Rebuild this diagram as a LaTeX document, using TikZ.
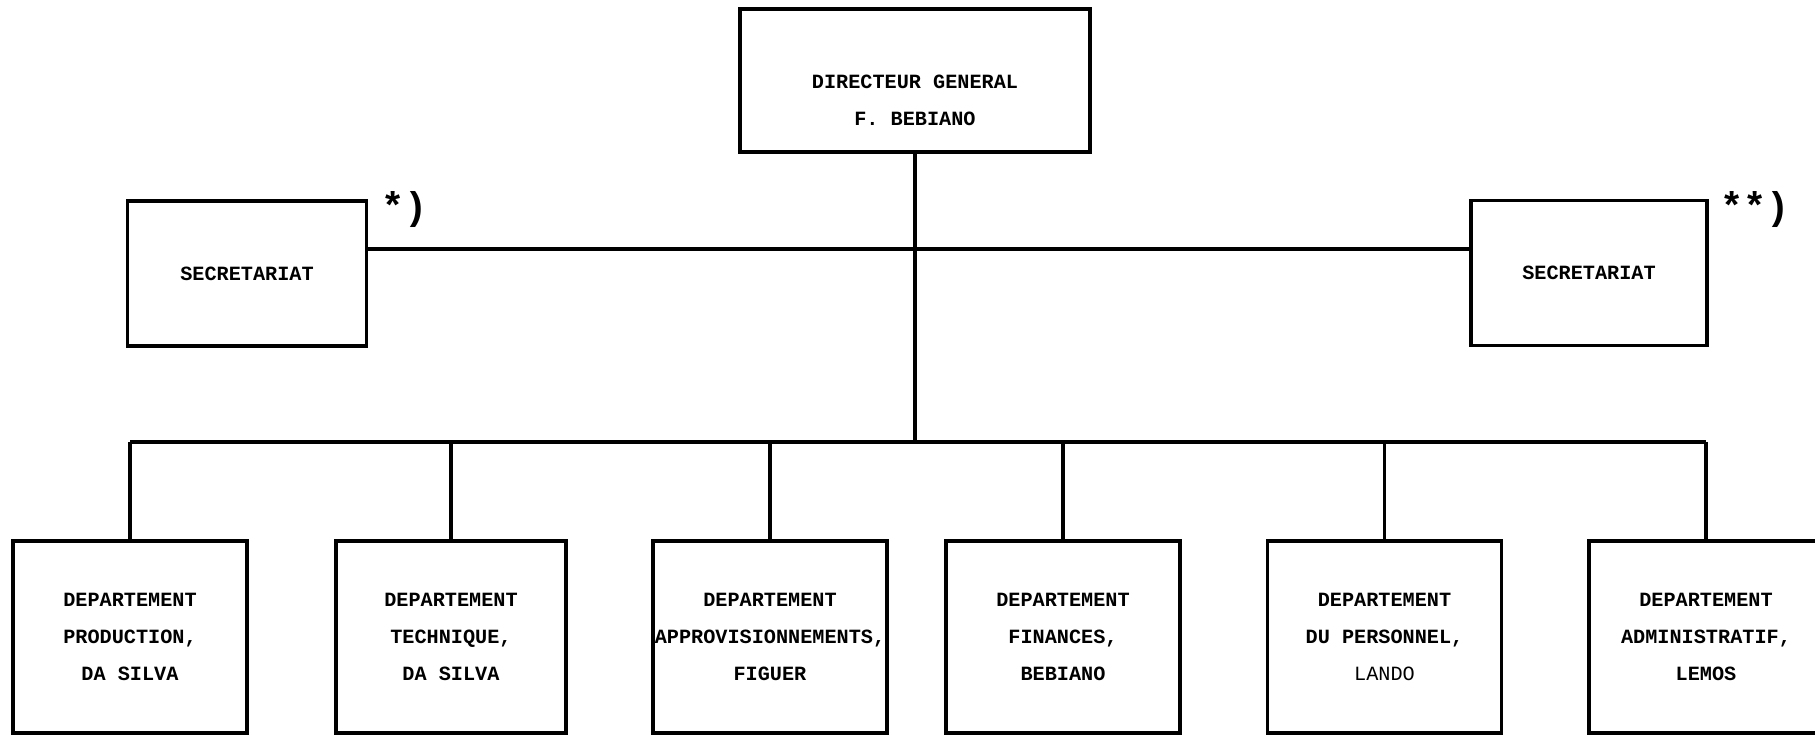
\documentclass[tikz,border=0pt]{standalone}
\usepackage{fontspec}
\setmonofont{Liberation Mono}

\begin{document}
\begin{tikzpicture}[
    orgbox/.style={rectangle, draw, line width=2pt, inner sep=1pt, align=center,
        font=\ttfamily\bfseries\fontsize{11.5}{21}\selectfont},
    deptbox/.style={orgbox, minimum width=4.68cm, minimum height=3.84cm},
    secbox/.style={orgbox, minimum width=4.78cm, minimum height=2.9cm},
    orgtext/.style={align=center, font=\ttfamily\bfseries\fontsize{11.5}{21}\selectfont},
    note/.style={font=\ttfamily\bfseries\fontsize{22}{26}\selectfont},
    link/.style={line width=1.8pt}]
    \useasboundingbox (0,0) rectangle (36.3,14.72);
    \clip (0,0) rectangle (36.3,14.72);

    % Director
    \node[orgbox, minimum width=7cm, minimum height=2.86cm] (dir) at (18.3,13.11) {};
    \node[orgtext] (dirtext) at ([yshift=-0.4cm]dir.center) {DIRECTEUR GENERAL\\F. BEBIANO};

    % Secretariats
    \node[secbox] (secl) at (4.94,9.25) {SECRETARIAT};
    \node[secbox, minimum width=4.72cm] (secr) at (31.78,9.26) {SECRETARIAT};
    \node[note] (star1) at (8.1,10.52) {*)};
    \node[note] (star2) at (35.1,10.52) {**)};

    % Departments
    \node[deptbox] (d1) at (2.6,1.98) {DEPARTEMENT\\PRODUCTION,\\DA SILVA};
    \node[deptbox, minimum width=4.6cm] (d2) at (9.02,1.98) {DEPARTEMENT\\TECHNIQUE,\\DA SILVA};
    \node[deptbox] (d3) at (15.4,1.98) {DEPARTEMENT\\APPROVISIONNEMENTS,\\FIGUER};
    \node[deptbox] (d4) at (21.26,1.98) {DEPARTEMENT\\FINANCES,\\BEBIANO};
    \node[deptbox] (d5) at (27.69,1.98) {DEPARTEMENT\\DU PERSONNEL,\\{\mdseries LANDO}};
    \node[deptbox] (d6) at (34.12,1.98) {DEPARTEMENT\\ADMINISTRATIF,\\LEMOS};

    % Links
    \coordinate (secjoin) at (18.3,9.74);
    \coordinate (bus) at (18.3,5.88);
    \draw[link] (dir.south) -- (bus);
    \draw[link] (secl.east |- secjoin) -- (secr.west |- secjoin);
    \draw[link] (d1.north |- bus) -- (d6.north |- bus);
    \draw[link] (d1.north |- bus) -- (d1.north);
    \draw[link] (d2.north |- bus) -- (d2.north);
    \draw[link] (d3.north |- bus) -- (d3.north);
    \draw[link] (d4.north |- bus) -- (d4.north);
    \draw[link] (d5.north |- bus) -- (d5.north);
    \draw[link] (d6.north |- bus) -- (d6.north);
\end{tikzpicture}
\end{document}
